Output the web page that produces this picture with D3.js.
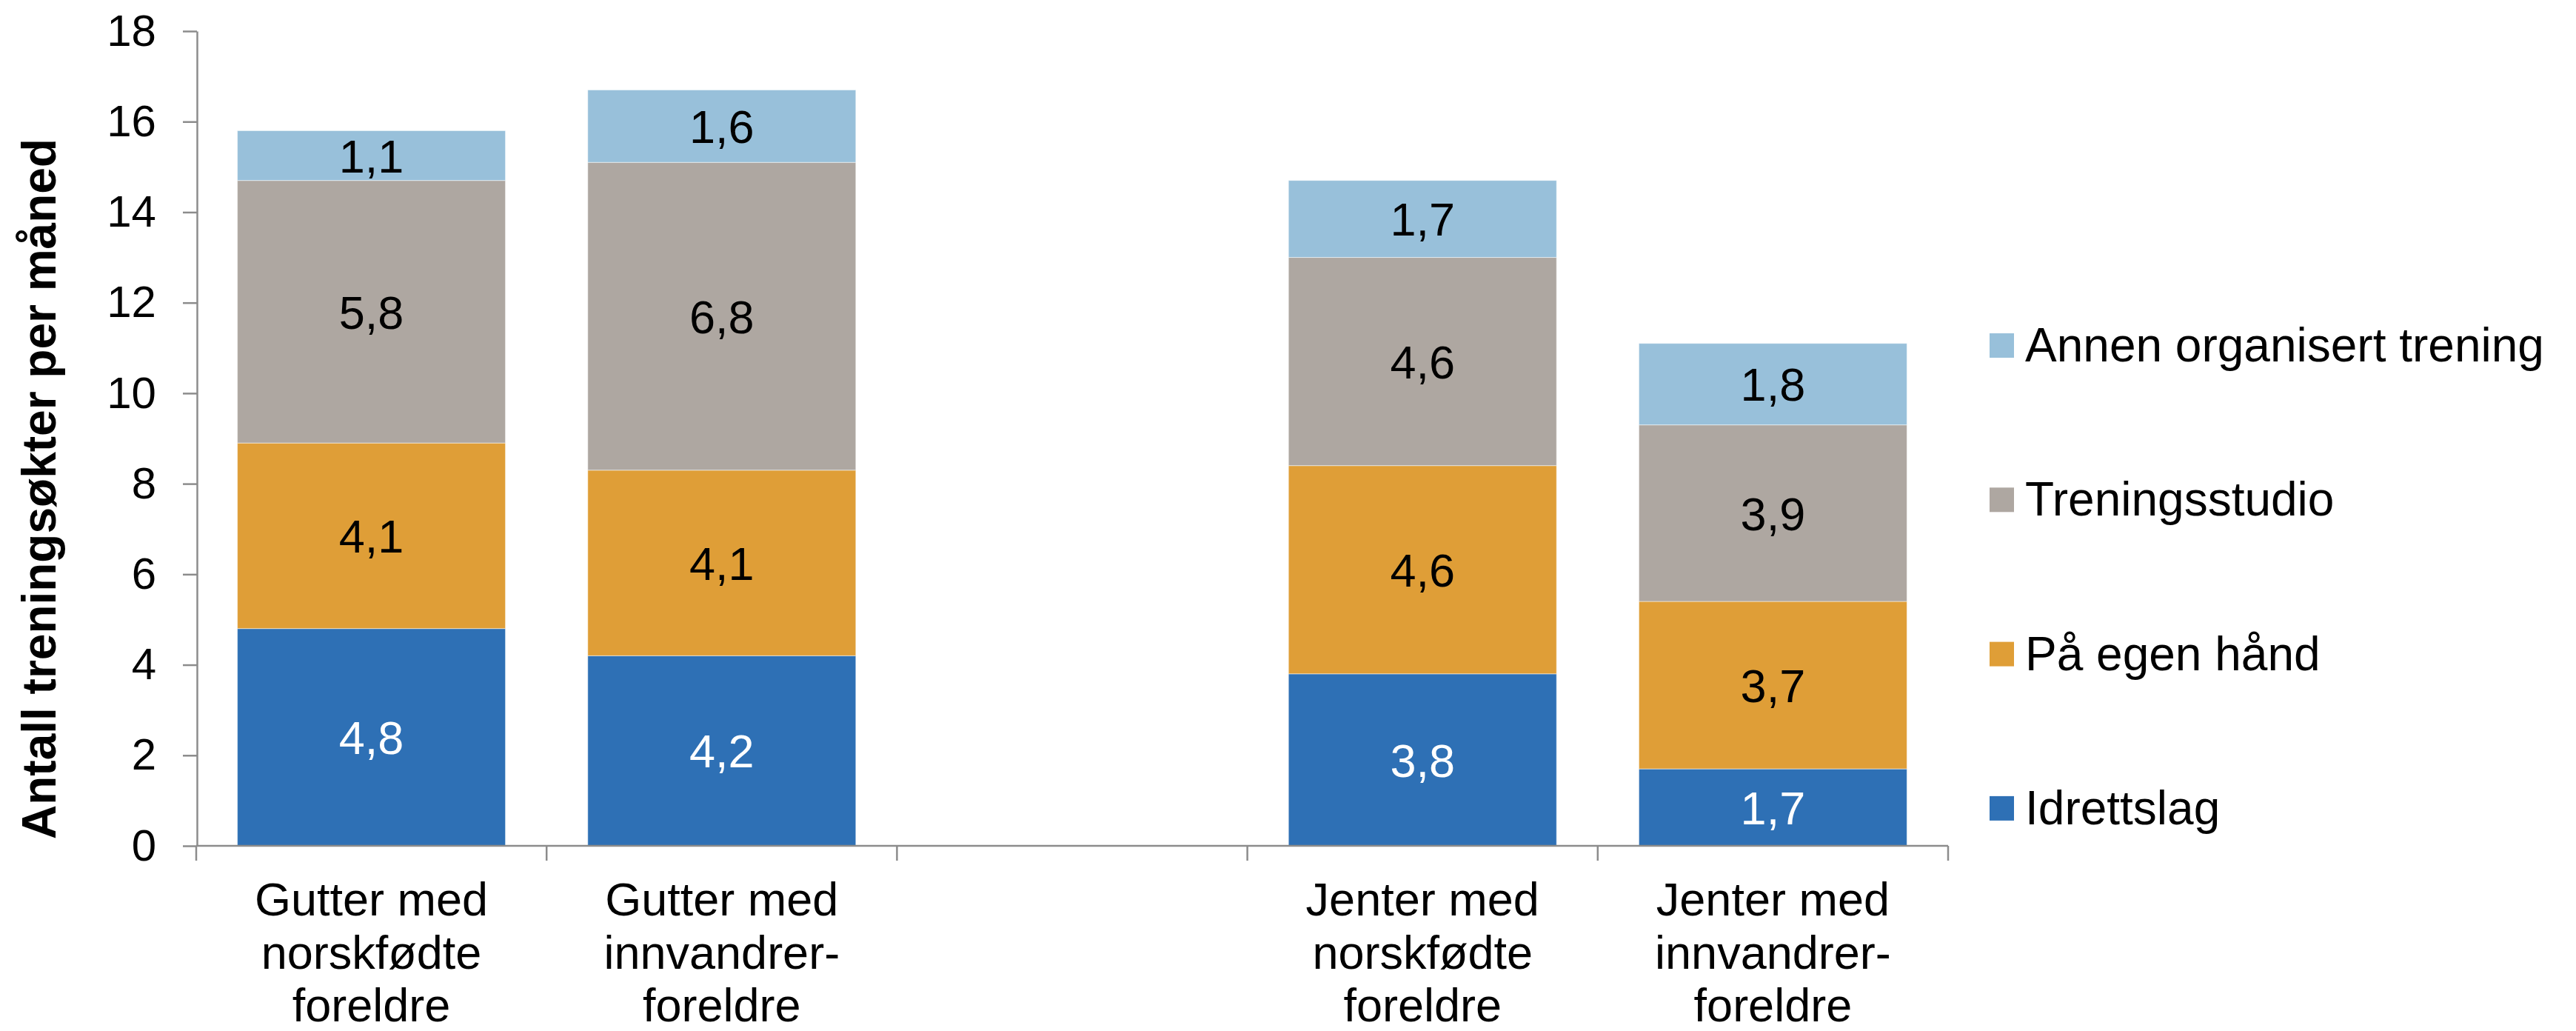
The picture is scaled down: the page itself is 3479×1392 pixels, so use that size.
<!DOCTYPE html>
<html>
<head>
<meta charset="utf-8">
<script src="https://cdn.jsdelivr.net/npm/d3@7"></script>
<style>
  body { margin: 0; background: #fff; }
  text { font-family: "Liberation Sans", Arial, sans-serif; }
</style>
</head>
<body>
<script>
// categories (the empty one is the gap between boys and girls)
var categories = [
    "Gutter med\nnorskfødte\nforeldre",
    "Gutter med\ninnvandrer-\nforeldre",
    "",
    "Jenter med\nnorskfødte\nforeldre",
    "Jenter med\ninnvandrer-\nforeldre"
];

var seriesNames = ["Idrettslag", "På egen hånd", "Treningsstudio", "Annen organisert trening"];
var seriesColors = ["#2e70b5", "#df9e37", "#aea7a1", "#98c0da"];
var labelColors = ["#ffffff", "#000000", "#000000", "#000000"];

var idrettslag     = [4.8, 4.2, null, 3.8, 1.7];
var egenHand       = [4.1, 4.1, null, 4.6, 3.7];
var treningsstudio = [5.8, 6.8, null, 4.6, 3.9];
var annen          = [1.1, 1.6, null, 1.7, 1.8];

var yTicks = [0, 2, 4, 6, 8, 10, 12, 14, 16, 18];
var yTitle = "Antall treningsøkter per måned";

var width = 3479,
    height = 1392;

var svg = d3.select("body").append("svg")
    .attr("width", width)
    .attr("height", height);

var x = d3.scaleBand()
    .domain(d3.range(categories.length))
    .range([265, 2631])
    .paddingInner(0.235)
    .paddingOuter(0.1175);

var y = d3.scaleLinear()
    .domain([0, 18])
    .range([1142, 42]);

// build stacked table
var table = categories.map(function(c, i) {
    return {
        i: i,
        s0: idrettslag[i],
        s1: egenHand[i],
        s2: treningsstudio[i],
        s3: annen[i]
    };
}).filter(function(d) { return d.s0 != null; });

var stack = d3.stack().keys(["s0", "s1", "s2", "s3"]);
var layers = stack(table);

var layer = svg.selectAll(".layer")
    .data(layers)
    .enter().append("g")
    .attr("class", "layer")
    .attr("fill", function(d, k) { return seriesColors[k]; });

layer.selectAll("rect")
    .data(function(d) { return d; })
    .enter().append("rect")
    .attr("x", function(d) { return x(d.data.i); })
    .attr("width", x.bandwidth())
    .attr("y", function(d) { return y(d[1]); })
    .attr("height", function(d) { return y(d[0]) - y(d[1]); })
    .attr("stroke", "#ffffff")
    .attr("stroke-opacity", 0.5)
    .attr("stroke-width", 1);

// value labels
layers.forEach(function(l, k) {
    svg.selectAll(".lbl" + k)
        .data(l)
        .enter().append("text")
        .attr("x", function(d) { return x(d.data.i) + x.bandwidth() / 2; })
        .attr("y", function(d) { return (y(d[0]) + y(d[1])) / 2; })
        .attr("dy", "0.36em")
        .attr("text-anchor", "middle")
        .attr("font-size", 63)
        .attr("fill", labelColors[k])
        .text(function(d) { return String(d.data[l.key]).replace(".", ","); });
});

// y axis
var yAxis = svg.append("g")
    .attr("transform", "translate(266,0)")
    .call(d3.axisLeft(y).tickValues(yTicks).tickSize(19).tickSizeOuter(0).tickPadding(36));

yAxis.selectAll("line").attr("stroke", "#8c8c8c").attr("stroke-width", 2.5);
yAxis.select(".domain").attr("stroke", "#8c8c8c").attr("stroke-width", 2.5);
yAxis.selectAll("text")
    .attr("font-size", 60)
    .attr("fill", "#000")
    .attr("font-family", "Liberation Sans, Arial, sans-serif");

// x axis
var step = x.step();
var x0 = x(0) - step * x.paddingInner() / 2;
svg.append("line")
    .attr("x1", x0).attr("x2", x0 + step * categories.length)
    .attr("y1", y(0)).attr("y2", y(0))
    .attr("stroke", "#8c8c8c").attr("stroke-width", 2.5);

svg.selectAll(".xtick")
    .data(d3.range(categories.length + 1))
    .enter().append("line")
    .attr("x1", function(d) { return x0 + d * step; })
    .attr("x2", function(d) { return x0 + d * step; })
    .attr("y1", y(0))
    .attr("y2", y(0) + 20)
    .attr("stroke", "#8c8c8c").attr("stroke-width", 2.5);

var catLabel = svg.selectAll(".cat")
    .data(categories)
    .enter().append("text")
    .attr("text-anchor", "middle")
    .attr("font-size", 63)
    .attr("fill", "#000");

catLabel.each(function(c, i) {
    var t = d3.select(this);
    c.split("\n").forEach(function(line, j) {
        if (!line) return;
        t.append("tspan")
            .attr("x", x(i) + x.bandwidth() / 2)
            .attr("y", 1236 + j * 71.5)
            .text(line);
    });
});

// y title
svg.append("text")
    .attr("transform", "translate(75,660) rotate(-90)")
    .attr("text-anchor", "middle")
    .attr("font-size", 64)
    .attr("font-weight", "bold")
    .attr("fill", "#000")
    .text(yTitle);

// legend, top item is the top of the stack
var legendOrder = [3, 2, 1, 0];
var legend = svg.selectAll(".legend")
    .data(legendOrder)
    .enter().append("g")
    .attr("class", "legend")
    .attr("transform", function(d, j) { return "translate(2687," + (488 + j * 208.3) + ")"; });

legend.append("rect")
    .attr("x", 0)
    .attr("y", -38)
    .attr("width", 33)
    .attr("height", 33)
    .attr("fill", function(d) { return seriesColors[d]; });

legend.append("text")
    .attr("x", 48)
    .attr("y", 0)
    .attr("font-size", 64)
    .attr("fill", "#000")
    .text(function(d) { return seriesNames[d]; });
</script>
</body>
</html>
